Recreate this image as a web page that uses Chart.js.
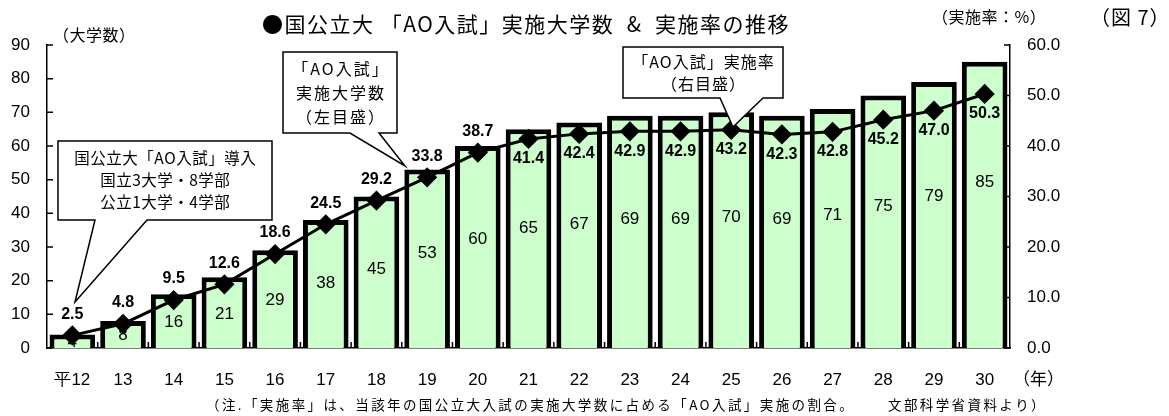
<!DOCTYPE html>
<html>
<head>
<meta charset="utf-8">
<script src="https://cdn.jsdelivr.net/npm/chart.js@4"></script>
<style>
  html, body { margin: 0; padding: 0; background: #fff; }
  #wrap { width: 1169px; height: 416px; }
</style>
</head>
<body>
<div id="wrap"><canvas id="aoChart" width="1169" height="416"></canvas></div>
<script>
// 国公立大「AO入試」実施大学数（左目盛）と実施率（右目盛）
const years = ['平12', '13', '14', '15', '16', '17', '18', '19', '20', '21', '22', '23', '24', '25', '26', '27', '28', '29', '30'];
const schoolCounts = [4, 8, 16, 21, 29, 38, 45, 53, 60, 65, 67, 69, 69, 70, 69, 71, 75, 79, 85];
const rates = [2.5, 4.8, 9.5, 12.6, 18.6, 24.5, 29.2, 33.8, 38.7, 41.4, 42.4, 42.9, 42.9, 43.2, 42.3, 42.8, 45.2, 47.0, 50.3];
const countAxisMax = 90;
const rateAxisMax = 60;

const JP = "'Noto Sans CJK JP', sans-serif";
const NUM = "'Liberation Sans', Arial, sans-serif";

const spaced = (ctx, px) => { if ('letterSpacing' in ctx) ctx.letterSpacing = px + 'px'; };

const drawCallout = (ctx, box, ptr, lines, font, gap, sp) => {
  const [l, t, r, b] = box;
  ctx.save();
  ctx.beginPath();
  ctx.moveTo(l, t);
  ctx.lineTo(r, t);
  ctx.lineTo(r, b);
  ctx.lineTo(ptr.right, b);
  ctx.lineTo(ptr.tipX, ptr.tipY);
  ctx.lineTo(ptr.left, b);
  ctx.lineTo(l, b);
  ctx.closePath();
  ctx.fillStyle = '#fff';
  ctx.fill();
  ctx.strokeStyle = '#000';
  ctx.lineWidth = 1.5;
  ctx.stroke();
  ctx.fillStyle = '#000';
  ctx.font = font;
  spaced(ctx, sp);
  ctx.textAlign = 'center';
  ctx.textBaseline = 'middle';
  const cx = (l + r) / 2 + sp / 2;
  const y0 = (t + b) / 2 - (lines.length - 1) * gap / 2;
  lines.forEach((s, i) => ctx.fillText(s, cx, y0 + i * gap));
  ctx.restore();
};

const labelPlugin = {
  id: 'labels',
  afterDatasetDraw(chart, args) {
    const ctx = chart.ctx;
    ctx.save();
    ctx.fillStyle = '#000';
    ctx.textAlign = 'center';
    ctx.textBaseline = 'middle';
    if (args.index === 0) {
      // bar values, inside the bars
      ctx.font = '17px ' + NUM;
      args.meta.data.forEach((bar, i) => {
        const h = bar.base - bar.y;
        const frac = 0.45 + 0.0015 * schoolCounts[i];
        ctx.fillText(String(schoolCounts[i]), bar.x, bar.base - h * frac);
      });
    } else {
      // rate values
      ctx.font = 'bold 16px ' + NUM;
      args.meta.data.forEach((pt, i) => {
        const dy = i <= 8 ? -21 : 20;
        ctx.fillText(rates[i].toFixed(1), pt.x, pt.y + dy);
      });
    }
    ctx.restore();
  },
  afterDraw(chart) {
    const ctx = chart.ctx;
    const { x, y, y2 } = chart.scales;
    ctx.save();
    ctx.strokeStyle = '#000';
    ctx.lineWidth = 1.5;
    ctx.beginPath();
    y.ticks.forEach(t => {
      const py = y.getPixelForValue(t.value);
      ctx.moveTo(y.right, py);
      ctx.lineTo(y.right + 6, py);
    });
    y2.ticks.forEach(t => {
      const py = y2.getPixelForValue(t.value);
      ctx.moveTo(y2.left - 6, py);
      ctx.lineTo(y2.left, py);
    });
    const step = x.getPixelForValue(1) - x.getPixelForValue(0);
    for (let i = 1; i < years.length; i++) {
      const bx = x.getPixelForValue(0) + (i - 0.5) * step;
      ctx.moveTo(bx, x.top);
      ctx.lineTo(bx, x.top - 6);
    }
    ctx.stroke();

    ctx.fillStyle = '#000';
    ctx.textBaseline = 'middle';
    ctx.textAlign = 'left';
    ctx.font = '21px ' + JP;
    spaced(ctx, 1.5);
    ctx.fillText('●国公立大 「AO入試」実施大学数  &  実施率の推移', 262, 24);
    ctx.font = '16px ' + JP;
    spaced(ctx, 0.5);
    ctx.fillText('（大学数）', 53, 35);
    ctx.fillText('（実施率：%）', 932, 17);
    ctx.font = '20px ' + JP;
    spaced(ctx, 1);
    ctx.fillText('（図 7）', 1090, 17);
    ctx.font = '17px ' + JP;
    spaced(ctx, 0);
    ctx.fillText('（年）', 1013, 379);
    ctx.font = '13.5px ' + JP;
    spaced(ctx, 2.4);
    ctx.fillText('（注.「実施率」は、当該年の国公立大入試の実施大学数に占める「AO入試」実施の割合。', 206, 405);
    ctx.fillText('文部科学省資料より）', 888, 405);
    ctx.restore();

    drawCallout(ctx, [58, 141, 272, 220], { left: 95, right: 147, tipX: 75, tipY: 302 },
      ['国公立大「AO入試」導入', '国立3大学・8学部', '公立1大学・4学部'], '15.5px ' + JP, 22, 0.5);
    drawCallout(ctx, [283, 52, 397, 133], { left: 350, right: 379, tipX: 405, tipY: 166 },
      ['「AO入試」', '実施大学数', '（左目盛）'], '16px ' + JP, 24, 2);
    drawCallout(ctx, [623, 47, 783, 98], { left: 720, right: 763, tipX: 733, tipY: 127 },
      ['「AO入試」実施率', '（右目盛）'], '16px ' + JP, 22, 1);
  }
};

const ctx = document.querySelector('#aoChart').getContext('2d');
const aoChart = new Chart(ctx, {
  type: 'bar',
  data: {
    labels: years,
    datasets: [
      {
        type: 'bar',
        label: '実施大学数',
        data: schoolCounts,
        yAxisID: 'y',
        order: 1,
        backgroundColor: '#CCFFCC',
        borderColor: '#000',
        borderWidth: 5,
        barPercentage: 0.9,
        categoryPercentage: 1.0
      },
      {
        type: 'line',
        label: '実施率',
        data: rates,
        yAxisID: 'y2',
        order: 0,
        borderColor: '#000',
        backgroundColor: '#000',
        borderWidth: 3,
        pointStyle: 'rectRot',
        pointRadius: 8,
        pointHoverRadius: 8,
        tension: 0
      }
    ]
  },
  options: {
    responsive: false,
    animation: false,
    devicePixelRatio: 1,
    layout: { padding: { top: 45, left: 0, right: 0, bottom: 0 } },
    plugins: {
      legend: { display: false },
      title: { display: false },
      tooltip: { enabled: false }
    },
    scales: {
      x: {
        grid: { display: false, drawTicks: false },
        border: { color: '#000', width: 1.5 },
        ticks: { color: '#000', font: { family: NUM, size: 17 }, padding: 22, maxRotation: 0 },
        afterFit: s => { s.height = 68; }
      },
      y: {
        position: 'left',
        min: 0,
        max: countAxisMax,
        grid: { display: false, drawTicks: false },
        border: { color: '#000', width: 1.5 },
        ticks: { stepSize: 10, color: '#000', font: { family: NUM, size: 17 }, padding: 17 },
        afterFit: s => { s.width = 47; }
      },
      y2: {
        position: 'right',
        min: 0,
        max: rateAxisMax,
        grid: { display: false, drawTicks: false },
        border: { color: '#000', width: 1.5 },
        ticks: { stepSize: 10, color: '#000', font: { family: NUM, size: 17 }, padding: 17,
          callback: v => v.toFixed(1) },
        afterFit: s => { s.width = 159; }
      }
    }
  },
  plugins: [labelPlugin]
});
</script>
</body>
</html>
